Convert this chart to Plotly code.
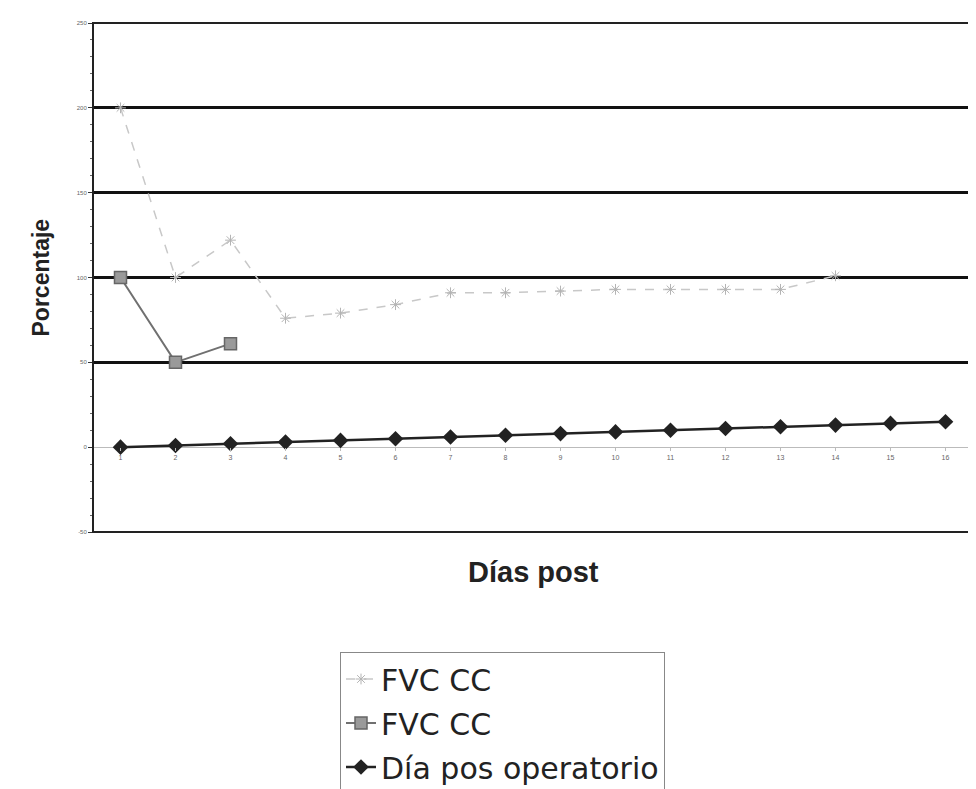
import plotly.graph_objects as go

dias = list(range(1, 17))
tick_labels = [str(d) for d in dias]

fvc_light_x = list(range(1, 15))
fvc_light = [200, 100, 122, 76, 79, 84, 91, 91, 92, 93, 93, 93, 93, 101]

fvc_dark_x = [1, 2, 3]
fvc_dark = [100, 50, 61]

dia_pos = [0, 1, 2, 3, 4, 5, 6, 7, 8, 9, 10, 11, 12, 13, 14, 15]

y_ticks = [-50, 0, 50, 100, 150, 200, 250]

names = ["FVC CC", "FVC CC", "Día pos operatorio"]

fig = go.Figure()
fig.add_trace(go.Scatter(
    x=fvc_light_x, y=fvc_light, name=names[0], mode="lines+markers",
    line=dict(color="#c8c8c8", width=1.5, dash="dash"),
    marker=dict(symbol="asterisk-open", size=9, color="#b4b4b4", line=dict(width=1, color="#b4b4b4")),
    legendgroup="a"))
fig.add_trace(go.Scatter(
    x=fvc_dark_x, y=fvc_dark, name=names[1], mode="lines+markers",
    line=dict(color="#707070", width=2),
    marker=dict(symbol="square", size=12, color="#9a9a9a", line=dict(width=1.5, color="#666666")),
    legendgroup="b"))
fig.add_trace(go.Scatter(
    x=dias, y=dia_pos, name=names[2], mode="lines+markers",
    line=dict(color="#222222", width=2.5),
    marker=dict(symbol="diamond", size=12, color="#222222"),
    legendgroup="c"))

fig.update_layout(
    width=976, height=789,
    margin=dict(l=85, r=11, t=15, b=265, autoexpand=False),
    plot_bgcolor="white", paper_bgcolor="white",
    font=dict(family="Liberation Sans, Arial, sans-serif", color="#222"),
    showlegend=True,
    legend=dict(
        xref="container", yref="container", x=332 / 976, y=1 - 644 / 789,
        xanchor="left", yanchor="top",
        font=dict(size=30, color="#222", family="DejaVu Sans, sans-serif"),
        bordercolor="#888", borderwidth=1,
        traceorder="grouped", tracegroupgap=2,
        bgcolor="white",
    ),
    xaxis=dict(
        range=[0.5, 16.5], tickmode="array", tickvals=dias, ticktext=tick_labels,
        anchor="free", position=(0 + 50) / 300,
        showline=False, showgrid=False, zeroline=False,
        ticks="outside", ticklen=3, tickcolor="#bbb",
        tickfont=dict(size=7, color="#666"),
    ),
    yaxis=dict(
        range=[-50, 250], tickmode="array", tickvals=y_ticks,
        ticktext=[str(v) for v in y_ticks],
        showgrid=True, gridcolor="#111", gridwidth=2.5,
        zeroline=True, zerolinecolor="#bbb", zerolinewidth=1,
        showline=False,
        ticks="outside", ticklen=4, tickcolor="#333",
        minor=dict(ticks="outside", ticklen=2, tickcolor="#666", dtick=10),
        tickfont=dict(size=6, color="#666"),
    ),
    shapes=[dict(type="rect", xref="paper", yref="paper", x0=0, x1=1, y0=0, y1=1,
                 line=dict(color="#222", width=2), layer="above")],
    annotations=[
        dict(text="<b>Porcentaje</b>", xref="paper", yref="paper", x=-53 / 880, y=0.5,
             textangle=-90, showarrow=False, font=dict(size=23, color="#222"),
             xanchor="center", yanchor="middle"),
        dict(text="<b>Días post</b>", xref="paper", yref="paper", x=0.5, y=-40 / 509,
             showarrow=False, font=dict(size=29, color="#222"),
             xanchor="center", yanchor="middle"),
    ],
)

fig.write_html("out.html")
